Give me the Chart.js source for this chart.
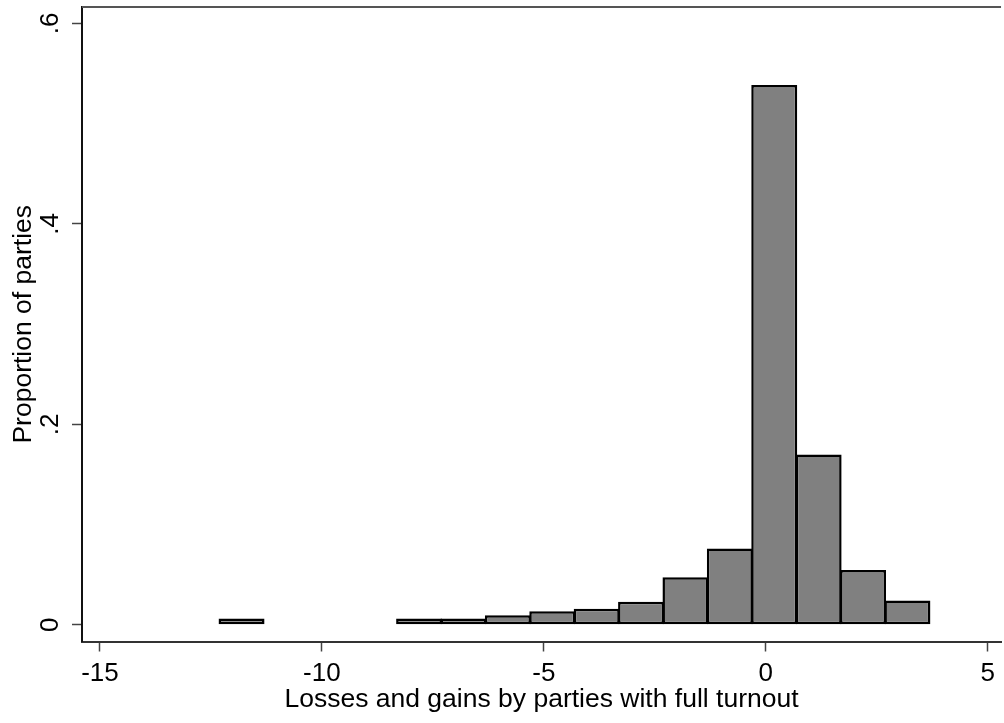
<!DOCTYPE html>
<html><head><meta charset="utf-8">
<script src="https://cdn.jsdelivr.net/npm/chart.js@4.4.0/dist/chart.umd.min.js"></script>
<style>html,body{margin:0;padding:0;background:#fff;} canvas{display:block;}</style>
</head><body>
<canvas id="c" width="1004" height="723"></canvas>
<script>
// Data
const binCenters = [-11.81,-10.81,-9.81,-8.81,-7.81,-6.81,-5.81,-4.81,-3.81,-2.81,-1.81,-0.81,0.19,1.19,2.19,3.19];
const proportions = [0.0063,0,0,0,0.0063,0.0063,0.0096,0.0136,0.016,0.0229,0.0474,0.076,0.5385,0.170,0.0548,0.0242];
const xTicks = [-15,-10,-5,0,5];
const xTickLabels = ['-15','-10','-5','0','5'];
const yTicks = [0,0.2,0.4,0.6];
const yTickLabels = ['0','.2','.4','.6'];
const xTitle = 'Losses and gains by parties with full turnout';
const yTitle = 'Proportion of parties';

const FONT = '"Liberation Sans", Arial, Helvetica, sans-serif';

const extras = {
  id: 'extras',
  afterDraw(chart) {
    const ctx = chart.ctx;
    const ca = chart.chartArea;
    const yScale = chart.scales.y;
    ctx.save();
    // top frame line
    ctx.strokeStyle = '#555';
    ctx.lineWidth = 2;
    ctx.beginPath();
    ctx.moveTo(ca.left, ca.top);
    ctx.lineTo(ca.right, ca.top);
    ctx.stroke();
    // rotated y tick labels
    ctx.fillStyle = '#000';
    ctx.font = '26px ' + FONT;
    ctx.textAlign = 'center';
    ctx.textBaseline = 'alphabetic';
    yTicks.forEach((v, i) => {
      const py = yScale.getPixelForValue(v);
      ctx.save();
      ctx.translate(58, py);
      ctx.rotate(-Math.PI / 2);
      ctx.fillText(yTickLabels[i], 0, 0);
      ctx.restore();
    });
    // y title
    ctx.font = '26.5px ' + FONT;
    ctx.save();
    ctx.translate(31, (ca.top + ca.bottom) / 2);
    ctx.rotate(-Math.PI / 2);
    ctx.fillText(yTitle, 0, 0);
    ctx.restore();
    ctx.restore();
  }
};

new Chart(document.getElementById('c'), {
  type: 'bar',
  data: {
    datasets: [{
      data: binCenters.map((c, i) => ({x: c, y: proportions[i]})),
      backgroundColor: '#808080',
      borderColor: '#000',
      borderWidth: 2.5,
      borderSkipped: false,
      barPercentage: 1.036,
      categoryPercentage: 1.0
    }]
  },
  options: {
    responsive: false,
    animation: false,
    layout: { padding: { left: 72, right: 0, top: 7, bottom: 0 } },
    plugins: { legend: { display: false }, tooltip: { enabled: false } },
    scales: {
      x: {
        type: 'linear',
        offset: false,
        min: -15.404,
        max: 5.2986,
        afterBuildTicks: (s) => { s.ticks = xTicks.map(v => ({value: v})); },
        ticks: {
          callback: (v) => xTickLabels[xTicks.indexOf(v)],
          color: '#000',
          font: { family: FONT, size: 26, lineHeight: 1 },
          padding: 9,
          maxRotation: 0,
          autoSkip: false
        },
        grid: { display: true, offset: false, drawOnChartArea: false, drawTicks: true, tickLength: 10, tickColor: '#444', tickWidth: 1.5 },
        border: { display: true, color: '#333', width: 2 },
        title: {
          display: true,
          text: xTitle,
          color: '#000',
          font: { family: FONT, size: 26.5, lineHeight: 1 },
          padding: { top: -9, bottom: 10 }
        }
      },
      y: {
        type: 'linear',
        min: -0.01664,
        max: 0.61625,
        afterBuildTicks: (s) => { s.ticks = yTicks.map(v => ({value: v})); },
        ticks: { display: false },
        grid: { display: true, drawOnChartArea: false, drawTicks: true, tickLength: 10, tickColor: '#444', tickWidth: 1.5 },
        border: { display: true, color: '#111', width: 2 }
      }
    }
  },
  plugins: [extras]
});
</script>
</body></html>
